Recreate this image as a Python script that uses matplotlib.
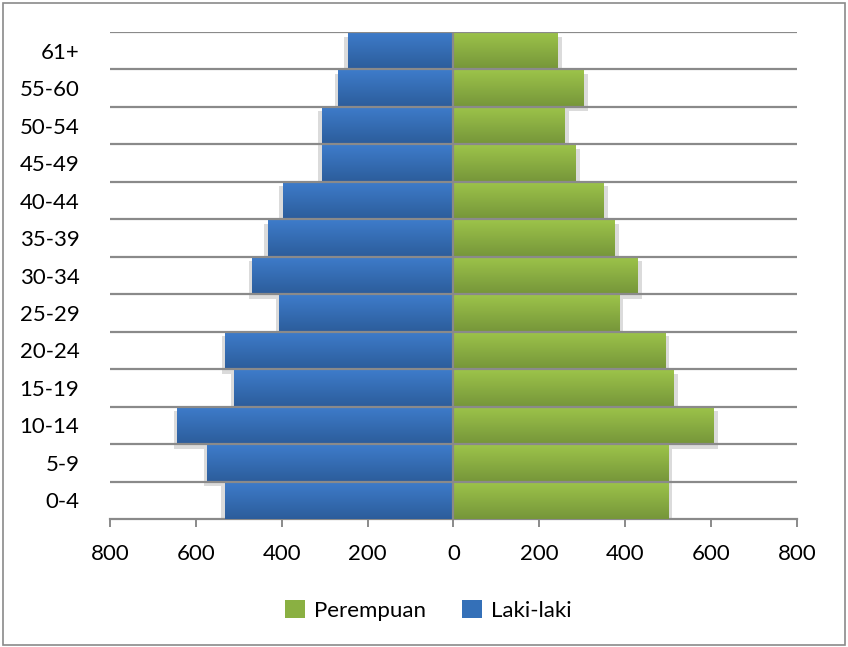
import numpy as np
import matplotlib
matplotlib.use('Agg')
import matplotlib.pyplot as plt
from matplotlib.patches import Rectangle, Patch
from matplotlib.colors import LinearSegmentedColormap

plt.rcParams['font.family'] = ['Lato', 'DejaVu Sans']

kelompok_umur = ['0-4', '5-9', '10-14', '15-19', '20-24', '25-29', '30-34',
                 '35-39', '40-44', '45-49', '50-54', '55-60', '61+']
laki_laki = [533, 573, 644, 510, 531, 406, 469, 433, 398, 307, 307, 269, 246]
perempuan = [501, 502, 607, 514, 495, 388, 430, 377, 351, 286, 260, 305, 244]
x_ticks = [-800, -600, -400, -200, 0, 200, 400, 600, 800]
x_labels = ['800', '600', '400', '200', '0', '200', '400', '600', '800']

fig = plt.figure(figsize=(8.48, 6.47), dpi=100)
ax = fig.add_axes([0.1297, 0.1978, 0.8101, 0.7527])

y = np.arange(len(kelompok_umur))

# gradien warna batang (atas terang, bawah gelap)
cm_biru = LinearSegmentedColormap.from_list('biru', ['#2c5d9b', '#3e7ccb'])
cm_hijau = LinearSegmentedColormap.from_list('hijau', ['#76963a', '#9dc44a'])
grad = np.linspace(0, 1, 64).reshape(-1, 1)

def batang(nilai, cmap):
    bars = ax.barh(y, nilai, height=1.0, color='none', edgecolor='none', zorder=3)
    for b in bars:
        x0, y0 = b.get_x(), b.get_y()
        w, h = b.get_width(), b.get_height()
        # bayangan
        ax.add_patch(Rectangle((x0 + (8 if w > 0 else -8), y0 - 0.12), w, h,
                               facecolor='#c4c4c4', edgecolor='none', alpha=0.6, zorder=2))
        im = ax.imshow(grad, cmap=cmap, aspect='auto', origin='lower',
                       extent=[x0, x0 + w, y0, y0 + h], zorder=3)
        im.set_clip_path(b)
    return bars

batang([-v for v in laki_laki], cm_biru)
batang(perempuan, cm_hijau)

ax.set_xlim(-800, 800)
ax.set_ylim(-0.5, len(kelompok_umur) - 0.5)

# garis kisi horizontal di batas kategori
for g in np.arange(0.5, len(kelompok_umur) - 0.5 + 0.01, 1):
    ax.axhline(g, color='#8a8a8a', lw=1.6, zorder=4)
ax.axvline(0, color='#8a8a8a', lw=1.6, zorder=4)

ax.set_yticks(y)
ax.set_yticklabels(kelompok_umur, fontsize=16)
ax.set_xticks(x_ticks)
ax.set_xticklabels(x_labels, fontsize=16)
ax.tick_params(axis='y', length=0, pad=22)
ax.tick_params(axis='x', length=6, width=1.4, color='#8a8a8a', pad=12)

for s in ['left', 'right', 'top']:
    ax.spines[s].set_visible(False)
ax.spines['bottom'].set_color('#8a8a8a')
ax.spines['bottom'].set_linewidth(1.6)

handles = [Patch(facecolor='#8ab042', label='Perempuan'),
           Patch(facecolor='#3470b8', label='Laki-laki')]
fig.legend(handles=handles, loc='center', bbox_to_anchor=(0.505, 0.057), ncol=2,
           frameon=False, fontsize=16, handlelength=0.9, handleheight=0.9,
           columnspacing=1.6, handletextpad=0.4)

# bingkai luar
fig.patches.append(Rectangle((0.004, 0.003), 0.992, 0.992, transform=fig.transFigure,
                             fill=False, edgecolor='#8a8a8a', lw=1.2))

fig.savefig('out.png', dpi=100)
